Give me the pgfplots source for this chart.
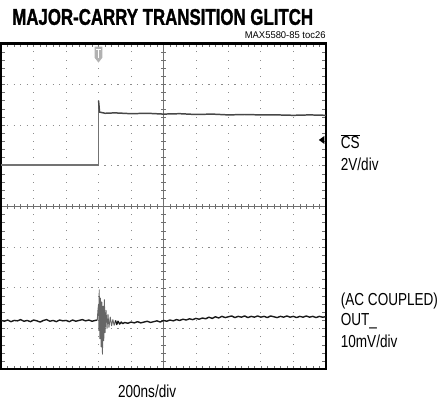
\documentclass[border=0pt]{standalone}
\usepackage{pgfplots}
\pgfplotsset{compat=1.18}
\usepackage{fontspec}
\setmainfont{Liberation Sans}
\newfontfamily\titlefont[FakeBold=1.5]{Liberation Sans Bold}
\usepackage{graphicx}
\definecolor{gridc}{gray}{0.55}
\definecolor{cslow}{gray}{0.45}
\definecolor{cstrace}{gray}{0.28}
\definecolor{outtrace}{gray}{0.1}
\newcommand{\lbl}[1]{\scalebox{0.78}[1]{\fontsize{17.5}{20}\selectfont #1}}
\begin{document}
\begin{tikzpicture}
% bounding box in pixel coordinates (origin top-left, y downward)
\begin{scope}[x=1pt,y=-1pt]
\useasboundingbox (0,0) rectangle (438,406);
\end{scope}
% grid in division coordinates
\begin{scope}[shift={(1pt,-372pt)}, x=32.7pt, y=41pt]
  \foreach \gx in {1,2,3,4,6,7,8,9}
    \draw[gridc, line width=0.8pt, dash pattern=on 0.8pt off 7.4pt, dash phase=0.4pt] (\gx,0) -- (\gx,8);
  \foreach \gy in {1,2,3,5,6,7}
    \draw[gridc, line width=0.8pt, dash pattern=on 1.2pt off 5.34pt, dash phase=0.6pt] (0,\gy) -- (10,\gy);
  % centre lines with minor ticks
  \draw[gridc!80!black, line width=0.6pt] (0,4) -- (10,4);
  \draw[gridc!80!black, line width=0.6pt] (5,0) -- (5,8);
  \foreach \t in {0.2,0.4,...,9.9}
    \draw[gridc!80!black, line width=0.6pt] ([yshift=-2.5pt]\t,4) -- ([yshift=2.5pt]\t,4);
  \foreach \t in {0.2,0.4,...,7.9}
    \draw[gridc!80!black, line width=0.6pt] ([xshift=-2.5pt]5,\t) -- ([xshift=2.5pt]5,\t);
  % border ticks
  \foreach \t in {0.2,0.4,...,9.9} {
    \draw[gridc!80!black, line width=0.6pt] (\t,8) -- ([yshift=-3.5pt]\t,8);
    \draw[gridc!80!black, line width=0.6pt] (\t,0) -- ([yshift=3.5pt]\t,0);
  }
  \foreach \t in {0.2,0.4,...,7.9} {
    \draw[gridc!80!black, line width=0.6pt] (0,\t) -- ([xshift=3.5pt]0,\t);
    \draw[gridc!80!black, line width=0.6pt] (10,\t) -- ([xshift=-3.5pt]10,\t);
  }
\end{scope}
\begin{axis}[
  at={(1pt,-372pt)}, anchor=south west,
  width=327pt, height=328pt, scale only axis,
  xmin=0, xmax=10, ymin=-4, ymax=4,
  xtick=\empty, ytick=\empty,
  axis line style={line width=2.4pt, black},
  clip=true,
]
% CS trace: low level and step
\addplot[cslow, line width=1.6pt] coordinates {
 (0,1.02) (1.5,1.02) (2.99,1.02) (3.0,1.02) (3.0,2.60)
};
% CS trace: high level
\addplot[cstrace, line width=1.5pt] coordinates {
 (3.0,2.60) (3.03,2.32) (3.2,2.29)
 (3.5,2.30) (4.0,2.28) (4.5,2.29) (5.0,2.27) (5.5,2.28) (6.0,2.26) (6.5,2.27)
 (7.0,2.25) (7.5,2.26) (8.0,2.25) (8.5,2.25) (9.0,2.24) (9.5,2.25) (10,2.24)
};
% OUT trace
\addplot[outtrace, line width=1.4pt, line join=round] coordinates {
 (0.0,-2.80) (0.1,-2.82) (0.2,-2.79) (0.3,-2.83) (0.4,-2.80) (0.5,-2.81)
 (0.6,-2.78) (0.7,-2.82) (0.8,-2.80) (0.9,-2.83) (1.0,-2.79) (1.1,-2.81)
 (1.2,-2.84) (1.3,-2.80) (1.4,-2.78) (1.5,-2.82) (1.6,-2.80) (1.7,-2.83)
 (1.8,-2.79) (1.9,-2.81) (2.0,-2.80) (2.1,-2.83) (2.2,-2.79) (2.3,-2.82)
 (2.4,-2.80) (2.5,-2.78) (2.6,-2.81) (2.7,-2.79) (2.8,-2.82) (2.9,-2.80)
 (2.96,-2.79)
};
\addplot[gray!80!black, line width=0.9pt, line join=round] coordinates {
 (2.96,-2.79) (2.98,-2.55) (3.00,-2.40) (3.01,-3.05) (3.02,-2.05) (3.04,-3.25)
 (3.06,-2.25) (3.08,-3.45) (3.10,-2.35) (3.12,-3.63) (3.14,-2.45) (3.16,-3.30)
 (3.18,-2.29) (3.20,-3.10) (3.23,-2.55) (3.26,-3.00) (3.29,-2.65) (3.32,-2.97)
 (3.36,-2.72) (3.40,-2.93) (3.44,-2.78) (3.48,-2.92) (3.52,-2.80)
};
\addplot[outtrace, line width=1.4pt, line join=round] coordinates {
 (3.52,-2.80) (3.56,-2.90) (3.60,-2.82) (3.65,-2.89) (3.70,-2.84) (3.75,-2.88)
 (3.8,-2.85) (3.9,-2.87) (4.0,-2.84) (4.1,-2.86) (4.2,-2.83) (4.3,-2.86)
 (4.4,-2.84) (4.5,-2.82) (4.6,-2.85) (4.7,-2.83) (4.8,-2.81) (4.9,-2.84)
 (5.0,-2.80) (5.1,-2.82) (5.2,-2.79) (5.3,-2.81) (5.4,-2.78) (5.5,-2.80)
 (5.6,-2.77) (5.7,-2.79) (5.8,-2.76) (5.9,-2.78) (6.0,-2.75) (6.1,-2.77)
 (6.2,-2.74) (6.3,-2.76) (6.4,-2.72) (6.5,-2.75) (6.6,-2.71) (6.7,-2.74)
 (6.8,-2.70) (6.9,-2.73) (7.0,-2.71) (7.1,-2.69) (7.2,-2.73) (7.3,-2.70)
 (7.4,-2.72) (7.5,-2.69) (7.6,-2.73) (7.7,-2.70) (7.8,-2.72) (7.9,-2.69)
 (8.0,-2.72) (8.1,-2.70) (8.2,-2.73) (8.3,-2.69) (8.4,-2.71) (8.5,-2.73)
 (8.6,-2.70) (8.7,-2.72) (8.8,-2.69) (8.9,-2.72) (9.0,-2.70) (9.1,-2.73)
 (9.2,-2.70) (9.3,-2.72) (9.4,-2.69) (9.5,-2.72) (9.6,-2.70) (9.7,-2.73)
 (9.8,-2.70) (9.9,-2.72) (10.0,-2.71)
};
\end{axis}
% markers and texts in pixel coordinates
\begin{scope}[x=1pt,y=-1pt]
  \fill[gray!60] (95,47) -- (103,47) -- (103,58) -- (99,63) -- (95,58) -- cycle;
  \draw[white, line width=0.9pt] (96.6,50) -- (101.4,50) (99,50) -- (99,58.5);
  \fill[black] (321,141) -- (326.5,137) -- (326.5,145) -- cycle;
  \node[anchor=base west, inner sep=0] at (12,25)
    {\resizebox{303pt}{16pt}{\titlefont MAJOR-CARRY TRANSITION GLITCH}};
  \node[anchor=base east, inner sep=0] at (328,38.3)
    {\scalebox{0.97}[1]{\fontsize{9.8}{11}\selectfont MAX5580-85 toc26}};
  \node[anchor=base west, inner sep=0] at (343,150) {\lbl{$\overline{\hbox{CS}}$}};
  \node[anchor=base west, inner sep=0] at (343,172) {\lbl{2V/div}};
  \node[anchor=base west, inner sep=0] at (343,308) {\lbl{(AC COUPLED)}};
  \node[anchor=base west, inner sep=0] at (343,328) {\lbl{OUT\_}};
  \node[anchor=base west, inner sep=0] at (343,350) {\lbl{10mV/div}};
  \node[anchor=base, inner sep=0] at (148,400) {\lbl{200ns/div}};
\end{scope}
\end{tikzpicture}
\end{document}
